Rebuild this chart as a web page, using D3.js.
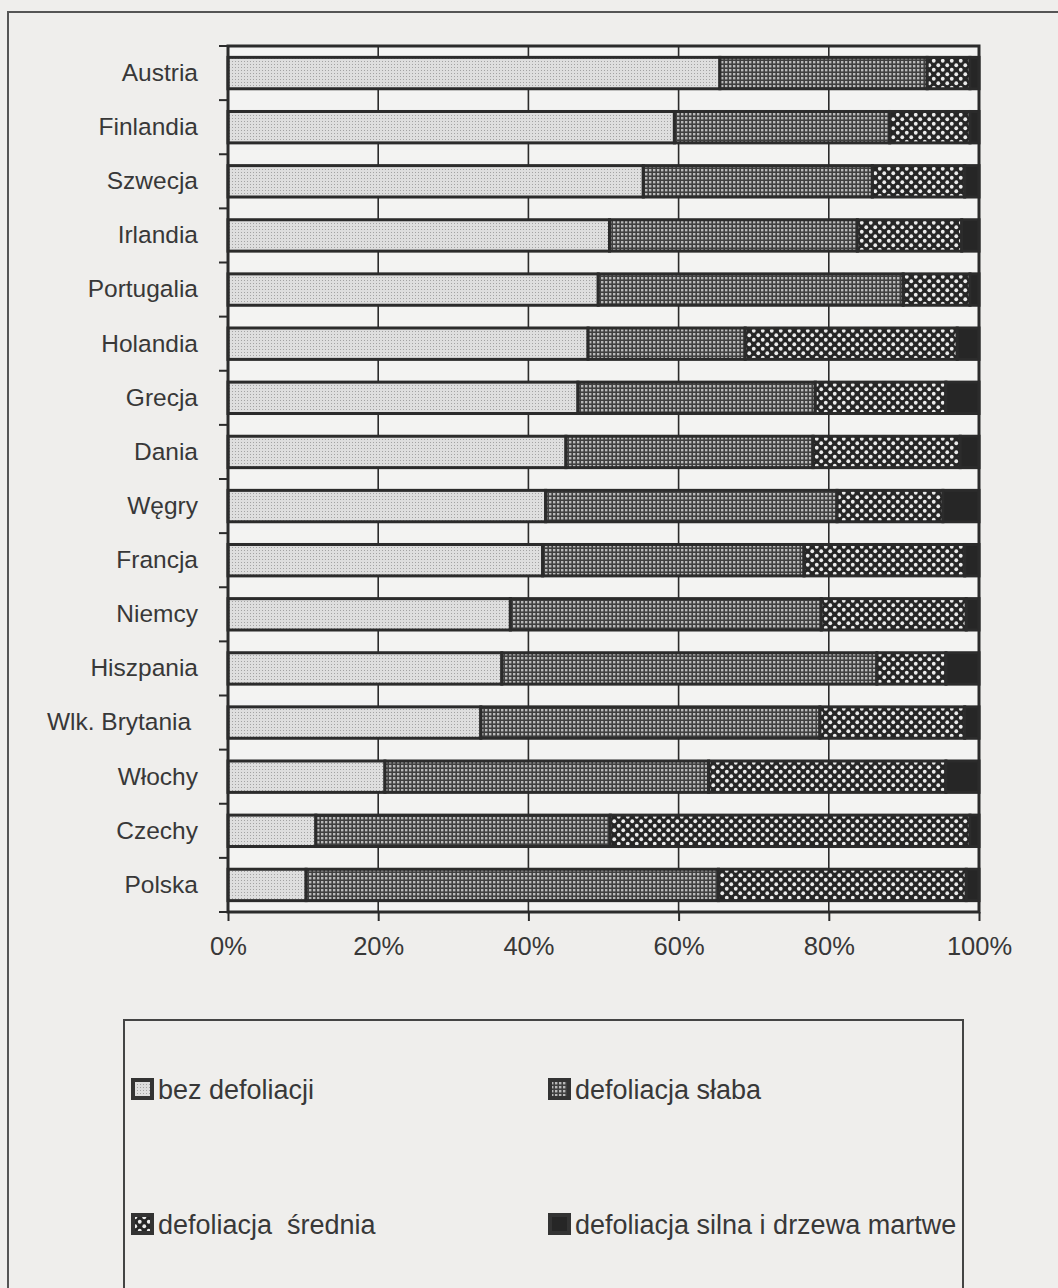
<!DOCTYPE html>
<html>
<head>
<meta charset="utf-8">
<script src="https://cdn.jsdelivr.net/npm/d3@7"></script>
<style>
  html, body { margin: 0; padding: 0; background: #efeeec; }
  svg { display: block; }
  text { font-family: "Liberation Sans", Arial, sans-serif; fill: #383838; white-space: pre; }
</style>
</head>
<body>
<svg id="chart" width="1058" height="1288"></svg>
<script>
// Countries, top to bottom
const categories = ["Austria", "Finlandia", "Szwecja", "Irlandia", "Portugalia", "Holandia",
  "Grecja", "Dania", "Węgry", "Francja", "Niemcy", "Hiszpania", "Wlk. Brytania ",
  "Włochy", "Czechy", "Polska"];

// Share of trees per defoliation class (%)
const bezDefoliacji   = [65.5, 59.5, 55.3, 50.8, 49.3, 47.9, 46.6, 45.0, 42.3, 41.9, 37.6, 36.5, 33.7, 20.9, 11.7, 10.4];
const defoliacjaSlaba = [27.6, 28.7, 30.5, 33.0, 40.6, 20.9, 31.6, 32.9, 38.8, 34.8, 41.4, 50.0, 45.2, 43.1, 39.2, 54.9];
const defoliacjaSrednia = [5.7, 10.7, 12.3, 13.9, 8.9, 28.2, 17.4, 19.6, 14.1, 21.4, 19.3, 9.2, 19.3, 31.6, 47.9, 33.0];
const defoliacjaSilna = [1.2, 1.2, 1.9, 2.3, 1.2, 2.9, 4.4, 2.5, 4.8, 1.9, 1.7, 4.4, 1.9, 4.4, 1.2, 1.7];

const seriesKeys = ["bez", "slaba", "srednia", "silna"];
const seriesLabels = ["bez defoliacji", "defoliacja słaba", "defoliacja  średnia", "defoliacja silna i drzewa martwe"];
const tickValues = [0, 0.2, 0.4, 0.6, 0.8, 1];

const rows = categories.map((c, i) => ({
  country: c,
  bez: bezDefoliacji[i],
  slaba: defoliacjaSlaba[i],
  srednia: defoliacjaSrednia[i],
  silna: defoliacjaSilna[i]
}));

const svg = d3.select("#chart");
const ink = "#2b2b2b";

// Hatch-style fills used for the four classes
const defs = svg.append("defs");

const pBez = defs.append("pattern").attr("id", "p-bez")
  .attr("width", 3).attr("height", 3).attr("patternUnits", "userSpaceOnUse");
pBez.append("rect").attr("width", 3).attr("height", 3).attr("fill", "#dedede");
pBez.append("rect").attr("x", 1).attr("y", 1).attr("width", 1).attr("height", 1).attr("fill", "#a3a3a3");

const pSlaba = defs.append("pattern").attr("id", "p-slaba")
  .attr("width", 4).attr("height", 4).attr("patternUnits", "userSpaceOnUse");
pSlaba.append("rect").attr("width", 4).attr("height", 4).attr("fill", "#404040");
pSlaba.append("rect").attr("x", 1).attr("y", 1).attr("width", 2.4).attr("height", 2.4).attr("fill", "#b9b9b9");

const pSrednia = defs.append("pattern").attr("id", "p-srednia")
  .attr("width", 9).attr("height", 9).attr("patternUnits", "userSpaceOnUse");
pSrednia.append("rect").attr("width", 9).attr("height", 9).attr("fill", "#262626");
pSrednia.append("circle").attr("cx", 2.25).attr("cy", 2.25).attr("r", 1.9).attr("fill", "#ececec");
pSrednia.append("circle").attr("cx", 6.75).attr("cy", 6.75).attr("r", 1.9).attr("fill", "#ececec");

const fills = {
  bez: "url(#p-bez)",
  slaba: "url(#p-slaba)",
  srednia: "url(#p-srednia)",
  silna: "#262626"
};

// Outer frame
svg.append("rect")
  .attr("x", 8).attr("y", 12).attr("width", 1070).attr("height", 1300)
  .attr("fill", "none").attr("stroke", "#555").attr("stroke-width", 2);

// Plot area
const plot = { left: 228, right: 979, top: 46, bottom: 912 };

const x = d3.scaleLinear().domain([0, 1]).range([plot.left, plot.right]);
const y = d3.scaleBand().domain(categories).range([plot.top, plot.bottom])
  .paddingInner(0.42).paddingOuter(0.21);

svg.append("rect")
  .attr("x", plot.left).attr("y", plot.top)
  .attr("width", plot.right - plot.left).attr("height", plot.bottom - plot.top)
  .attr("fill", "#f3f3f2");

// Vertical gridlines
svg.append("g").selectAll("line")
  .data(tickValues.slice(1, -1))
  .join("line")
  .attr("x1", d => x(d)).attr("x2", d => x(d))
  .attr("y1", plot.top).attr("y2", plot.bottom)
  .attr("stroke", ink).attr("stroke-width", 1.6);

// Stacked 100% bars
const stacked = d3.stack().keys(seriesKeys).offset(d3.stackOffsetExpand)(rows);

svg.append("g").selectAll("g")
  .data(stacked)
  .join("g")
  .attr("fill", d => fills[d.key])
  .selectAll("rect")
  .data(d => d)
  .join("rect")
  .attr("x", d => x(d[0]))
  .attr("width", d => x(d[1]) - x(d[0]))
  .attr("y", d => y(d.data.country))
  .attr("height", y.bandwidth())
  .attr("stroke", ink)
  .attr("stroke-width", 3);

// Plot border
svg.append("rect")
  .attr("x", plot.left).attr("y", plot.top)
  .attr("width", plot.right - plot.left).attr("height", plot.bottom - plot.top)
  .attr("fill", "none").attr("stroke", ink).attr("stroke-width", 3);

// Category axis
const yAxis = svg.append("g")
  .attr("transform", `translate(${plot.left},0)`)
  .call(d3.axisLeft(y).tickSize(0).tickPadding(30));
yAxis.select(".domain").remove();
yAxis.selectAll("text")
  .attr("font-size", 24.5)
  .attr("fill", "#383838")
  .attr("font-family", "Liberation Sans, Arial, sans-serif");

// Tick marks between categories
const boundaries = d3.range(categories.length + 1).map(i => plot.top + i * y.step());
svg.append("g").selectAll("line")
  .data(boundaries)
  .join("line")
  .attr("x1", plot.left - 9).attr("x2", plot.left)
  .attr("y1", d => d).attr("y2", d => d)
  .attr("stroke", ink).attr("stroke-width", 2);

// Percentage axis
const xAxis = svg.append("g")
  .attr("transform", `translate(0,${plot.bottom})`)
  .call(d3.axisBottom(x).tickValues(tickValues).tickFormat(d3.format(".0%"))
    .tickSize(9).tickPadding(16));
xAxis.select(".domain").remove();
xAxis.selectAll(".tick line").attr("stroke", ink).attr("stroke-width", 2);
xAxis.selectAll("text")
  .attr("font-size", 25.5)
  .attr("fill", "#383838")
  .attr("font-family", "Liberation Sans, Arial, sans-serif");

// Legend
svg.append("rect")
  .attr("x", 124).attr("y", 1020).attr("width", 839).attr("height", 300)
  .attr("fill", "none").attr("stroke", "#444").attr("stroke-width", 2);

const legendPos = [
  { x: 133, y: 1089 },
  { x: 550, y: 1089 },
  { x: 133, y: 1224 },
  { x: 550, y: 1224 }
];

const legend = svg.append("g").selectAll("g")
  .data(seriesKeys)
  .join("g")
  .attr("transform", (d, i) => `translate(${legendPos[i].x},${legendPos[i].y})`);

legend.append("rect")
  .attr("x", 0).attr("y", -9).attr("width", 19).attr("height", 18)
  .attr("fill", d => fills[d])
  .attr("stroke", "#333").attr("stroke-width", 4);

legend.append("text")
  .attr("x", 25).attr("y", 0).attr("dy", "0.36em")
  .attr("font-size", 27)
  .text((d, i) => seriesLabels[i]);
</script>
</body>
</html>
